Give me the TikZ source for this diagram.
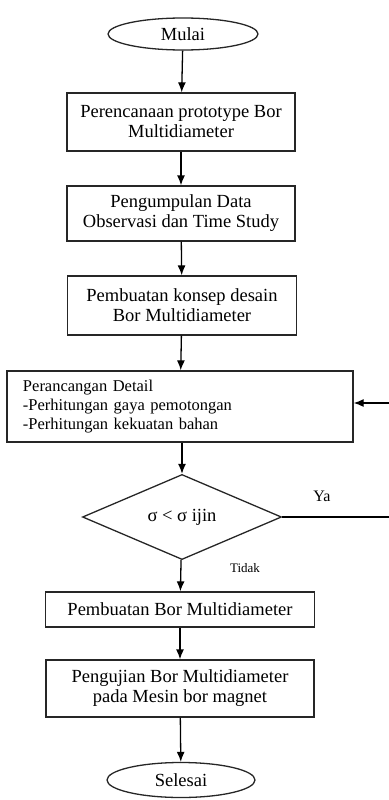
\documentclass[tikz,border=0pt]{standalone}
\usepackage{fontspec}
\setmainfont{Liberation Serif}
\usetikzlibrary{shapes.geometric}
\usetikzlibrary{arrows.meta}
\tikzset{x=1pt, y=-1pt,
proses/.style={ % Sets the properties for each process box
draw=black!85,
line width=1.3pt,
align=center,
inner sep=0pt,
font=\fontsize{18.5}{20}\selectfont},
terminal/.style={ % Start and end ellipses
ellipse,
draw=black!85,
line width=1.3pt,
inner sep=0pt,
font=\fontsize{18.5}{20}\selectfont},
keputusan/.style={ % Decision diamond
diamond,
draw=black!85,
line width=1.3pt,
inner sep=0pt,
font=\fontsize{18.5}{20}\selectfont},
every edge/.style={ % Sets the properties for each arrow
draw,
-{Latex[length=10pt,width=8pt]},
line width=1.3pt}}

\begin{document}
\begin{tikzpicture}
	\useasboundingbox (0,0) rectangle (388,800);
	\node[terminal, minimum width=150pt, minimum height=32pt] (mulai) at (183,34) {Mulai};
	\node[proses, minimum width=228pt, minimum height=58pt] (p1) at (181,122) {Perencanaan prototype Bor\\Multidiameter};
	\node[proses, minimum width=228pt, minimum height=55pt] (p2) at (181,213.5) {Pengumpulan Data\\Observasi dan Time Study};
	\node[proses, minimum width=229pt, minimum height=59pt] (p3) at (182,305.5) {Pembuatan konsep desain\\Bor Multidiameter};
	\node[proses, minimum width=346pt, minimum height=71pt, text width=314pt, align=left,
		font=\fontsize{16.5}{19}\selectfont] (detail) at (180,406.5) {Perancangan Detail\\-Perhitungan gaya pemotongan\\-Perhitungan kekuatan bahan};
	\node[keputusan, minimum width=199pt, minimum height=79pt] (cek) at (182,517) {σ < σ ijin};
	\node[proses, minimum width=269pt, minimum height=35pt] (p5) at (180,609.5) {Pembuatan Bor Multidiameter};
	\node[proses, minimum width=268pt, minimum height=57pt] (p6) at (180,688.5) {Pengujian Bor Multidiameter\\pada Mesin bor magnet};
	\node[terminal, minimum width=148pt, minimum height=35pt] (selesai) at (181,780) {Selesai};
	\coordinate (balik) at (392,517);
	\draw (mulai) edge (p1);
	\draw (p1) edge (p2);
	\draw (p2) edge (p3);
	\draw (p3) edge (detail);
	\draw (detail.south -| cek.north) edge (cek);
	\draw (cek) edge (p5);
	\draw (p5) edge (p6);
	\draw (p6) edge (selesai);
	\draw[line width=1.3pt, -{Latex[length=10pt,width=8pt]}] (cek.east) -- (balik) |- ([yshift=3.5pt]detail.east);
	\node[font=\fontsize{16}{20}\selectfont] (ya) at (322,496) {Ya};
	\node[font=\fontsize{13}{15}\selectfont] (tidak) at (245,568) {Tidak};
\end{tikzpicture}
\end{document}
